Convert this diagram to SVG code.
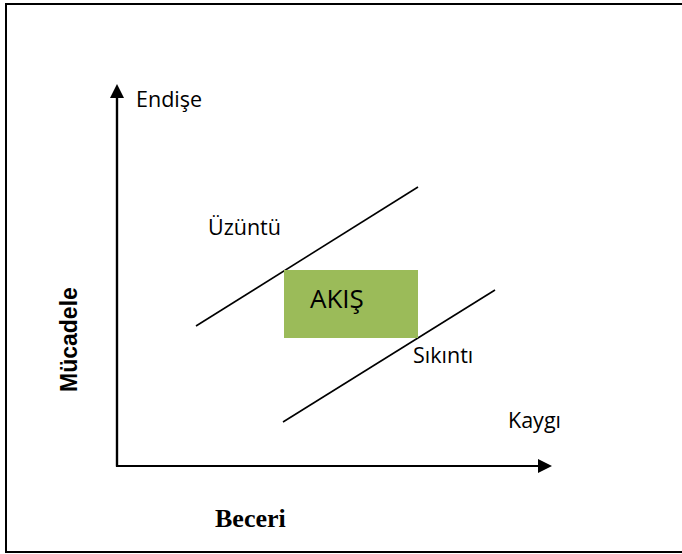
<svg xmlns="http://www.w3.org/2000/svg" width="682" height="554" viewBox="0 0 682 554">
  <style>
    .lbl { font-family: "Open Sans", "Noto Sans", sans-serif; font-size: 21.5px; fill: #000; }
    .axis { stroke: #000; stroke-width: 2.2; fill: none; }
    .band { stroke: #000; stroke-width: 1.6; }
  </style>
  <defs>
    <marker id="arrow" viewBox="0 0 14 14" refX="1" refY="7" markerWidth="14" markerHeight="14" markerUnits="userSpaceOnUse" orient="auto">
      <path d="M0,0 L14,7 L0,14 Z" fill="#000"/>
    </marker>
  </defs>
  <rect width="682" height="554" fill="#fff"/>
  <!-- outer frame -->
  <rect x="6" y="4" width="690" height="548" fill="none" stroke="#000" stroke-width="2"/>

  <!-- axes and channel boundaries -->
  <g id="connectors">
    <polyline class="axis" points="117,97 117,466 539,466" marker-end="url(#arrow)"/>
    <line class="axis" x1="117" y1="466" x2="117" y2="97" marker-end="url(#arrow)"/>
    <line class="band" x1="196" y1="326" x2="418" y2="187"/>
    <line class="band" x1="283" y1="422" x2="495" y2="290"/>
  </g>

  <g id="flow">
    <rect x="284" y="270" width="134" height="68" fill="#9BBB59"/>
    <text class="lbl" x="310" y="308" style="font-size:26px">AKIŞ</text>
  </g>
  <g id="endise"><text class="lbl" x="136" y="107">Endişe</text></g>
  <g id="uzuntu"><text class="lbl" x="208" y="235">Üzüntü</text></g>
  <g id="sikinti"><text class="lbl" x="413" y="363">Sıkıntı</text></g>
  <g id="kaygi"><text class="lbl" x="508" y="428">Kaygı</text></g>
  <g id="mucadele">
    <text x="77" y="392" transform="rotate(-90 77 392)" font-family="'Liberation Sans', Arial, sans-serif" font-weight="bold" font-size="23">Mücadele</text>
  </g>
  <g id="beceri">
    <text x="215" y="527" font-family="'Liberation Serif', 'Times New Roman', serif" font-weight="bold" font-size="26">Beceri</text>
  </g>
</svg>
